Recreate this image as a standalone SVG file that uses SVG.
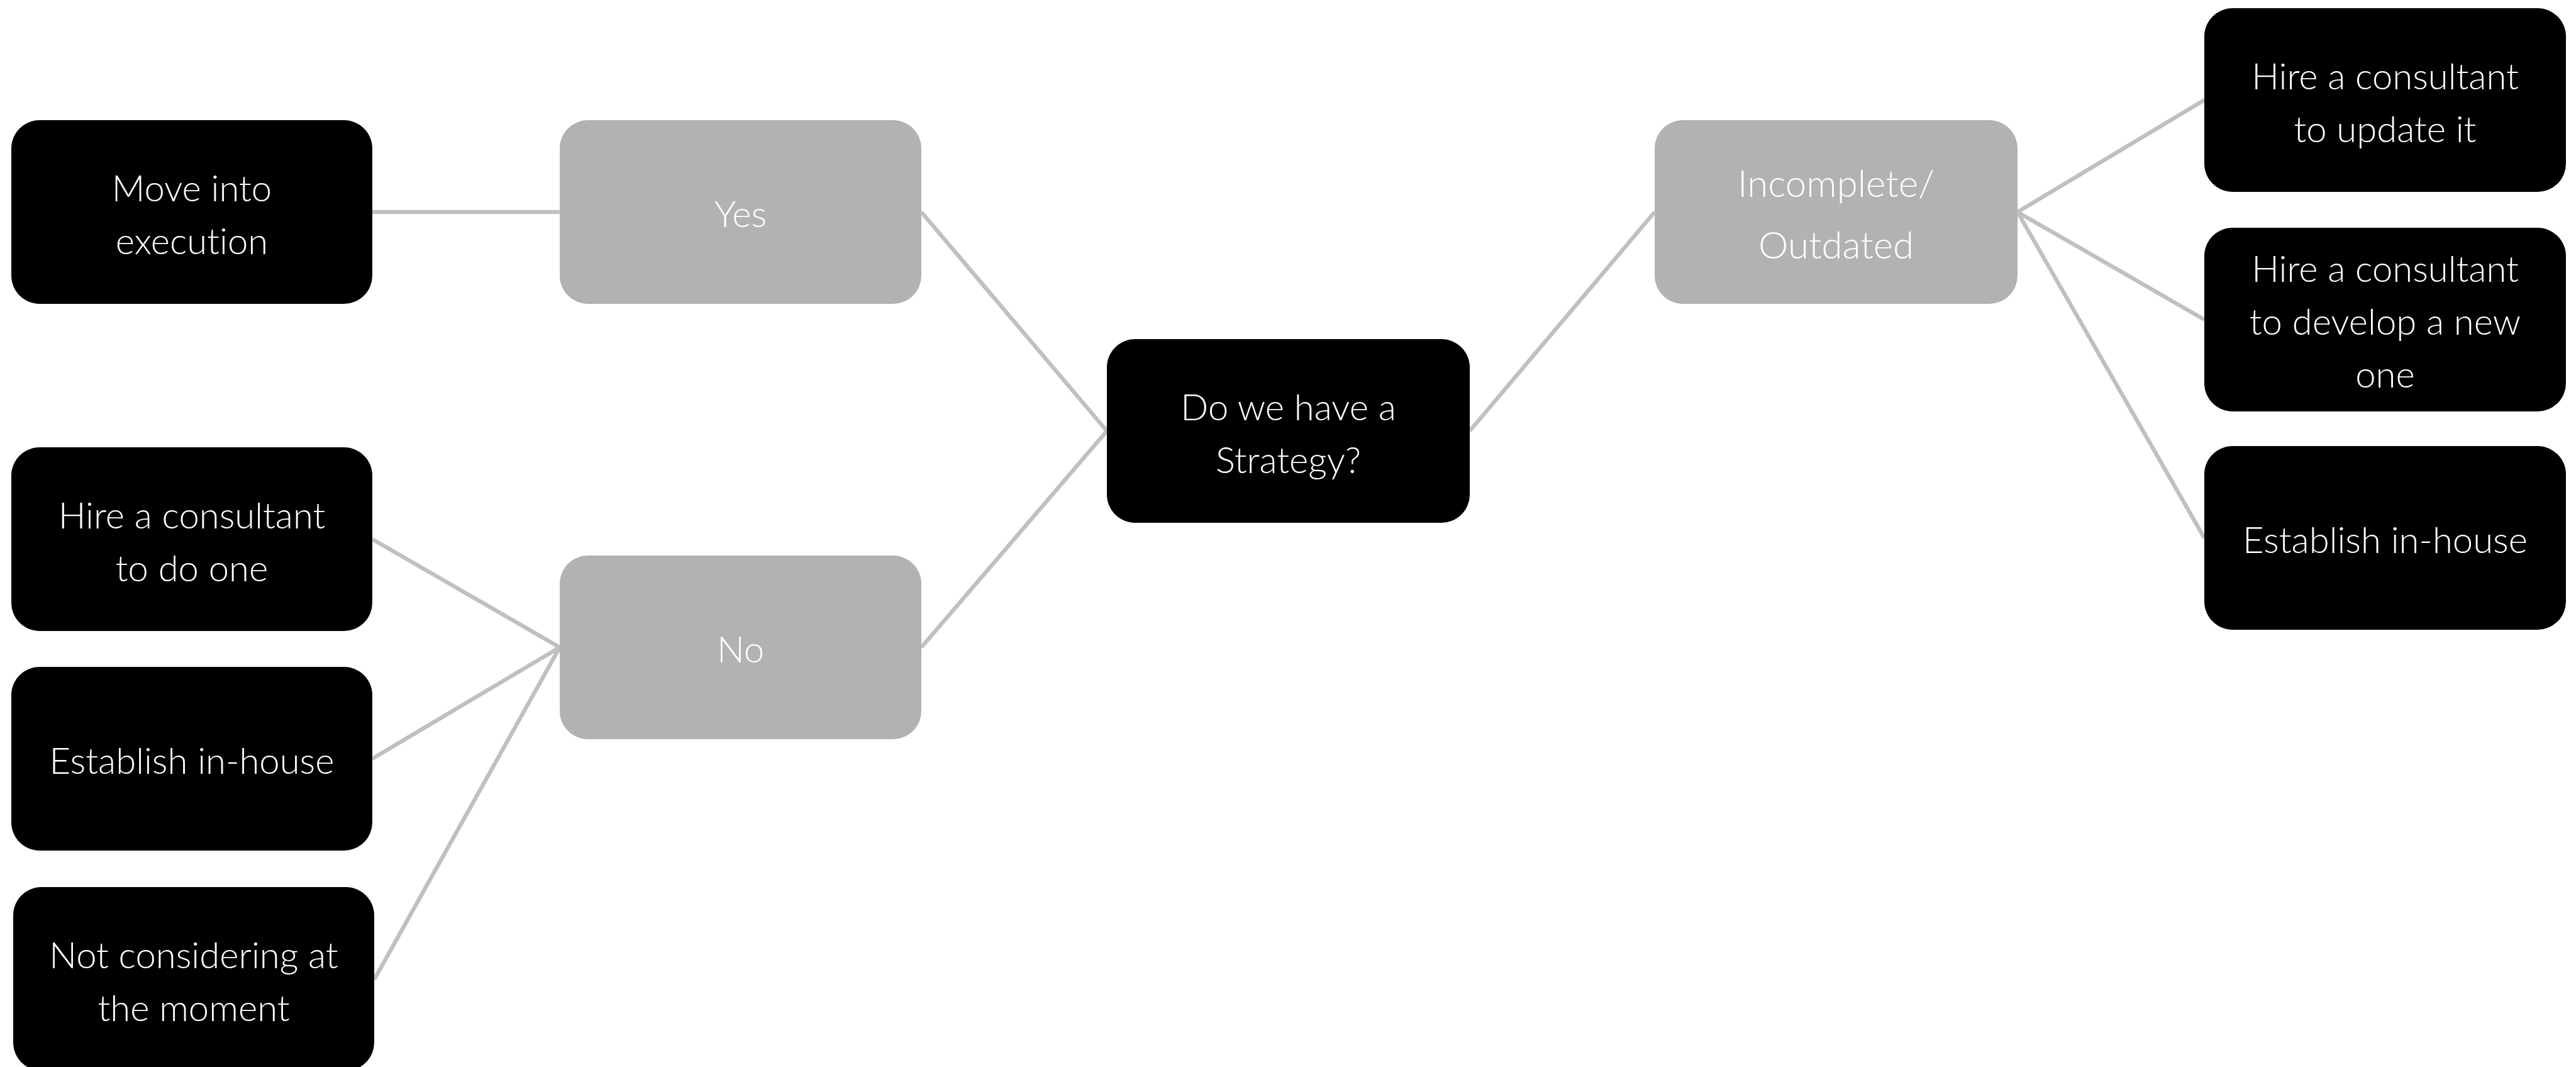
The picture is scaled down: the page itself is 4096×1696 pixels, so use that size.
<svg xmlns="http://www.w3.org/2000/svg" width="4096" height="1696" viewBox="0 0 4096 1696">
  <style>
    .dark { fill: #000000; }
    .soft { fill: #B1B2B4; }
    .lbl { fill: #FFFFFF; font-family: Lato, "Open Sans", "Liberation Sans", sans-serif; font-weight: 300; font-size: 58px; text-anchor: middle; font-variant-ligatures: none; }
    .big { font-size: 60px; }
    .wire { stroke: #C0C0C0; stroke-width: 6.5; fill: none; stroke-linecap: butt; }
  </style>
  <rect width="4096" height="1696" fill="#FFFFFF"/>

  <!-- connectors -->
  <g id="connectors">
    <path class="wire" d="M592 337 L890 337"/>
    <path class="wire" d="M1465 337 L1760 685"/>
    <path class="wire" d="M1465 1029 L1760 685"/>
    <path class="wire" d="M2337 685 L2631 337"/>
    <path class="wire" d="M3208 337 L3505 159"/>
    <path class="wire" d="M3208 337 L3505 508"/>
    <path class="wire" d="M3208 337 L3505 855"/>
    <path class="wire" d="M890 1029 L592 857"/>
    <path class="wire" d="M890 1029 L592 1206"/>
    <path class="wire" d="M890 1029 L595 1557"/>
  </g>

  <!-- root question -->
  <g id="node-strategy">
    <rect class="dark" x="1760" y="539" width="577" height="292" rx="45"/>
    <text class="lbl" x="2048.5" y="668">Do we have a</text>
    <text class="lbl" x="2048.5" y="752">Strategy?</text>
  </g>

  <!-- answers -->
  <g id="node-yes">
    <rect class="soft" x="890" y="191" width="575" height="292" rx="45"/>
    <text class="lbl" x="1177.5" y="361">Yes</text>
  </g>
  <g id="node-no">
    <rect class="soft" x="890" y="883" width="575" height="292" rx="45"/>
    <text class="lbl" x="1177.5" y="1053">No</text>
  </g>
  <g id="node-incomplete">
    <rect class="soft" x="2631" y="191" width="577" height="292" rx="45"/>
    <text class="lbl big" x="2919.5" y="313">Incomplete/</text>
    <text class="lbl big" x="2919.5" y="411">Outdated</text>
  </g>

  <!-- actions for "Yes" / "No" -->
  <g id="node-execution">
    <rect class="dark" x="18" y="191" width="574" height="292" rx="45"/>
    <text class="lbl" x="305" y="320">Move into</text>
    <text class="lbl" x="305" y="404">execution</text>
  </g>
  <g id="node-hire-new">
    <rect class="dark" x="18" y="711" width="574" height="292" rx="45"/>
    <text class="lbl" x="305" y="840">Hire a consultant</text>
    <text class="lbl" x="305" y="924">to do one</text>
  </g>
  <g id="node-inhouse-left">
    <rect class="dark" x="18" y="1060" width="574" height="292" rx="45"/>
    <text class="lbl" x="305" y="1230">Establish in-house</text>
  </g>
  <g id="node-not-considering">
    <rect class="dark" x="21" y="1410" width="574" height="292" rx="45"/>
    <text class="lbl" x="308" y="1539">Not considering at</text>
    <text class="lbl" x="308" y="1623">the moment</text>
  </g>

  <!-- actions for "Incomplete/Outdated" -->
  <g id="node-hire-update">
    <rect class="dark" x="3505" y="13" width="575" height="292" rx="45"/>
    <text class="lbl" x="3792.5" y="142">Hire a consultant</text>
    <text class="lbl" x="3792.5" y="226">to update it</text>
  </g>
  <g id="node-hire-develop">
    <rect class="dark" x="3505" y="362" width="575" height="292" rx="45"/>
    <text class="lbl" x="3792.5" y="448">Hire a consultant</text>
    <text class="lbl" x="3792.5" y="532">to develop a new</text>
    <text class="lbl" x="3792.5" y="616">one</text>
  </g>
  <g id="node-inhouse-right">
    <rect class="dark" x="3505" y="709" width="575" height="292" rx="45"/>
    <text class="lbl" x="3792.5" y="879">Establish in-house</text>
  </g>
</svg>
